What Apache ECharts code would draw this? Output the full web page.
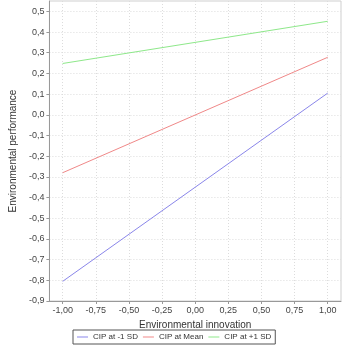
<!DOCTYPE html>
<html>
<head>
<meta charset="utf-8">
<script src="https://cdn.jsdelivr.net/npm/echarts@6/dist/echarts.min.js"></script>
<style>
	html, body { margin: 0; padding: 0; background: #fff; }
	#main { width: 344px; height: 349px; }
</style>
</head>
<body>
<div id="main"></div>
<script>
// simple slopes
var xValues = [-1, 1];
var lowSD = [-0.805, 0.105];
var meanCIP = [-0.28, 0.278];
var highSD = [0.248, 0.452];
var seriesNames = ['CIP at -1 SD', 'CIP at Mean', 'CIP at +1 SD'];
var seriesColors = ['#8a86ea', '#f08888', '#8ee88a'];
var xTicks = [-1, -0.75, -0.5, -0.25, 0, 0.25, 0.5, 0.75, 1];
var yTicks = [-0.9, -0.8, -0.7, -0.6, -0.5, -0.4, -0.3, -0.2, -0.1, 0, 0.1, 0.2, 0.3, 0.4, 0.5];

function pairs(ys) {
	var r = [];
	for (var i = 0; i < xValues.length; i++) {
		r.push([xValues[i], ys[i]]);
	}
	return r;
}
function fmt(d) {
	return function(v) {
		var s = Number(v).toFixed(d);
		if (parseFloat(s) === 0) s = (0).toFixed(d);
		return s.replace('.', ',');
	};
}

var font = 'Liberation Sans, Arial, sans-serif';
var gridLine = { show: true, lineStyle: { color: '#dcdcdc', type: [1, 2], width: 1 } };
var allData = [lowSD, meanCIP, highSD];
var series = [];
for (var k = 0; k < allData.length; k++) {
	series.push({
		name: seriesNames[k],
		type: 'line',
		symbol: 'none',
		data: pairs(allData[k]),
		lineStyle: { width: 1, color: seriesColors[k] },
		itemStyle: { color: seriesColors[k] },
		silent: true
	});
}

var myChart = echarts.init(document.getElementById('main'));
var option = {
	animation: false,
	backgroundColor: '#fff',
	textStyle: { fontFamily: font },
	grid: {
		left: 35, right: 3, top: 1, bottom: 48,
		show: true, borderColor: '#cfcfcf', borderWidth: 1
	},
	legend: {
		left: 73, top: 330,
		padding: [3, 4],
		itemGap: 5,
		itemWidth: 11,
		itemHeight: 1,
		icon: 'rect',
		borderColor: '#555', borderWidth: 1,
		textStyle: { fontSize: 8, color: '#333', fontFamily: font },
		data: seriesNames
	},
	xAxis: {
		type: 'value',
		min: -1.1, max: 1.1,
		name: 'Environmental innovation',
		nameLocation: 'middle',
		nameGap: 17,
		nameTextStyle: { fontSize: 10, color: '#333' },
		axisLine: { onZero: false, lineStyle: { color: '#999' } },
		axisTick: { show: true, length: 3, lineStyle: { color: '#999' }, customValues: xTicks },
		axisLabel: { fontSize: 9, color: '#444', margin: 5, customValues: xTicks, formatter: fmt(2) },
		splitLine: gridLine
	},
	yAxis: {
		type: 'value',
		min: -0.9, max: 0.55,
		name: 'Environmental performance',
		nameLocation: 'middle',
		nameGap: 23,
		nameTextStyle: { fontSize: 10, color: '#333' },
		axisLine: { show: true, onZero: false, lineStyle: { color: '#999' } },
		axisTick: { show: true, length: 3, lineStyle: { color: '#999' }, customValues: yTicks },
		axisLabel: { fontSize: 9, color: '#444', margin: 5, customValues: yTicks, formatter: fmt(1) },
		splitLine: gridLine
	},
	series: series
};
myChart.setOption(option);
</script>
</body>
</html>
